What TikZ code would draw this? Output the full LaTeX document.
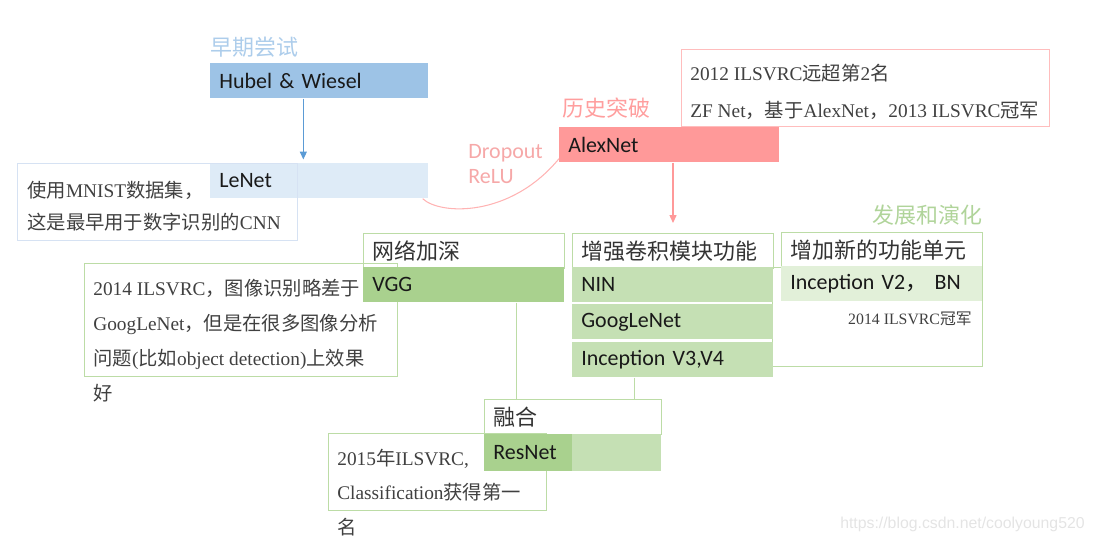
\documentclass[tikz,border=0pt]{standalone}
\usepackage{fontspec}
\usepackage{xcolor}
\setmainfont{Liberation Serif}
\newfontfamily\cjk{Noto Sans CJK SC}
\newfontfamily\cali{Carlito}
\newfontfamily\wmfont{Liberation Sans}
\newcommand{\hz}[1]{{\cjk #1}}
\usetikzlibrary{positioning,arrows.meta}
\definecolor{bluetitle}{HTML}{ADCDEB}
\definecolor{bluebox}{HTML}{9DC3E6}
\definecolor{bluelight}{HTML}{DEEBF7}
\definecolor{bluearrowc}{HTML}{5B9BD5}
\definecolor{blueframe}{HTML}{D6E2F3}
\definecolor{pinkbox}{HTML}{FF9999}
\definecolor{pinktitle}{HTML}{FF9E9E}
\definecolor{pinktext}{HTML}{F6A8A8}
\definecolor{pinkframe}{HTML}{FFBDBD}
\definecolor{pinkline}{HTML}{FFB3B3}
\definecolor{greendark}{HTML}{A9D18E}
\definecolor{greenmid}{HTML}{C5E0B4}
\definecolor{greenlight}{HTML}{E2F0D9}
\definecolor{greentitle}{HTML}{B0D49A}
\definecolor{greenline}{HTML}{BCDCA6}
\definecolor{notegray}{HTML}{404040}
\definecolor{wmgray}{HTML}{E4E4E4}

\begin{document}
\begin{tikzpicture}[x=0.02cm, y=-0.02cm,
    netbox/.style={rectangle, anchor=north west, inner xsep=0.18cm, inner ysep=0pt,
        minimum height=0.7cm, text width=#1, align=left, text=black!90,
        font=\cali\fontsize{12.5}{15}\selectfont},
    netbox/.default=3.66cm,
    headbox/.style={netbox=#1, draw=greenline, line width=0.6pt, fill=white,
        text=black!80, font=\cjk\fontsize{12.5}{15}\selectfont},
    headbox/.default=3.66cm,
    title/.style={inner sep=0pt, font=\cjk\fontsize{12.5}{15}\selectfont},
    frame/.style={rectangle, anchor=north west, inner sep=0pt, line width=0.6pt},
    notetext/.style={anchor=west, inner sep=0pt, align=left, text=notegray,
        font=\fontsize{11}{#1}\selectfont},
    bluearrow/.style={draw=bluearrowc, line width=0.6pt, -{Triangle[width=4pt,length=4.5pt]}},
    pinkarrow/.style={draw=pinkbox, line width=0.6pt, -{Triangle[width=4pt,length=4.5pt]}},
    pinkcurve/.style={draw=pinkline, line width=0.6pt},
    greenlink/.style={draw=greenline, line width=0.8pt}
]
    \useasboundingbox (0,0) rectangle (1094,544);

    \node[title, anchor=west, text=bluetitle] (early) at (210,47) {早期尝试};
    \node[title, anchor=west, text=pinktitle] (break) at (562,108) {历史突破};
    \node[title, anchor=east, text=greentitle] (evolve) at (983,215) {发展和演化};

    \node[netbox=4.0cm, fill=bluebox] (hubel) at (210,63) {Hubel \& Wiesel};
    \node[netbox=4.0cm, fill=bluelight] (lenet) at (210,163) {LeNet};
    \node[netbox=4.04cm, fill=pinkbox] (alexnet) at (559,127) {AlexNet};

    \node[frame, draw=greenline, minimum width=4.2cm, minimum height=1.98cm] (unitframe) at (772,267) {};
    \node[anchor=east, inner sep=0pt, text=notegray, font=\fontsize{9}{11}\selectfont] (unittext) at (972,319) {2014 ILSVRC\hz{冠军}};

    \node[headbox] (deep) at (363,233) {网络加深};
    \node[frame, draw=greenline, minimum width=6.26cm, minimum height=2.26cm] (vggframe) at (84,263) {};
    \node[netbox, fill=greendark] (vgg) at (363,267) {VGG};

    \node[headbox] (enhance) at (572,233) {增强卷积模块功能};
    \node[netbox, fill=greenmid] (nin) at (572,267) {NIN};
    \node[netbox, fill=greenmid] (googlenet) at (572,304) {GoogLeNet};
    \node[netbox, fill=greenmid] (incep34) at (572,342) {Inception V3,V4};

    \node[headbox] (newunit) at (781,232) {增加新的功能单元};
    \node[netbox, fill=greenlight] (incep2) at (781,266) {Inception V2\hz{，} BN};

    \node[headbox=3.18cm] (fuse) at (484,399) {融合};
    \node[frame, draw=greenline, minimum width=4.36cm, minimum height=1.54cm] (resframe) at (328,433) {};
    \node[netbox=3.18cm, fill=greenmid, minimum height=0.74cm] (resnetbg) at (484,434) {};
    \node[netbox=1.40cm, fill=greendark, minimum height=0.74cm] (resnet) at (484,434) {ResNet};

    \node[frame, draw=blueframe, minimum width=5.6cm, minimum height=1.54cm] (lenetframe) at (17,163) {};
    \node[notetext=18pt] (lenetnote) at (27,206)
        {\hz{使用}MNIST\hz{数据集，}\\\hz{这是最早用于数字识别的}CNN};

    \node[frame, draw=pinkframe, minimum width=7.36cm, minimum height=1.54cm] (alexframe) at (681,49) {};
    \node[notetext=21pt] (alexnote) at (690,91.5)
        {2012 ILSVRC\hz{远超第}2\hz{名}\\ZF Net\hz{，基于}AlexNet\hz{，}2013 ILSVRC\hz{冠军}};

    \node[notetext=19.8pt] (vggnote) at (93,340.5)
        {2014 ILSVRC\hz{，图像识别略差于}\\GoogLeNet\hz{，但是在很多图像分析}\\\hz{问题}(\hz{比如}object detection)\hz{上效果}\\\hz{好}};

    \node[notetext=19.6pt] (resnote) at (337,492.5)
        {2015\hz{年}ILSVRC,\\Classification\hz{获得第一}\\\hz{名}};

    \node[anchor=west, inner sep=0pt, align=left, text=pinktext,
        font=\cali\fontsize{12.5}{14.2}\selectfont] (tricks) at (468,164.5) {Dropout\\ReLU};

    \coordinate (hubelout) at ([xshift=-0.32cm]hubel.south);
    \draw[bluearrow, shorten >=2pt] (hubelout) -- (hubelout |- lenet.north);
    \draw[pinkarrow, shorten >=0.2cm] (alexnet.south -| enhance.north) -- (enhance.north);
    \draw[pinkcurve] ([xshift=-0.12cm]lenet.south east) .. controls (440,215) and (510,218) .. ([yshift=0.08cm]alexnet.south west);

    \coordinate (vggdrop) at ([xshift=1.05cm]vgg.south);
    \coordinate (incepdrop) at ([xshift=-0.77cm]incep34.south);
    \draw[greenlink] (vggdrop) -- (vggdrop |- fuse.north);
    \draw[greenlink] (incepdrop) -- (incepdrop |- fuse.north);

    \node[anchor=east, inner sep=0pt, text=wmgray, font=\wmfont\fontsize{9}{11}\selectfont] (watermark) at (1085,524) {https://blog.csdn.net/coolyoung520};
\end{tikzpicture}
\end{document}
